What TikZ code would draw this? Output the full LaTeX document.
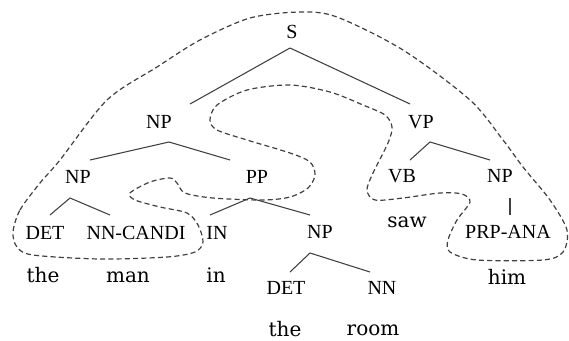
\documentclass[tikz,border=0pt]{standalone}
\usepackage{fontspec}
\setmainfont{Liberation Serif}
\newfontfamily\wordfont{DejaVu Serif}
\usetikzlibrary{calc}

\begin{document}
\begin{tikzpicture}[
    x=0.75pt, y=-0.75pt,
    tag/.style={inner sep=1pt, font=\fontsize{15}{18}\selectfont},
    word/.style={inner sep=1pt, font=\wordfont\fontsize{15}{18}\selectfont},
    branch/.style={draw=black!75, line width=0.8pt},
    chain/.style={draw=black!75, line width=0.9pt, dash pattern=on 3.8pt off 2.4pt}
    ]
    \useasboundingbox (0,0) rectangle (569,340);

    % Dashed chain round the candidate and the anaphor
    \draw[chain] plot[smooth cycle, tension=0.5] coordinates {
        (13,232) (20,210) (40,183) (60,160) (107,100) (157,67) (200,40)
        (250,18) (300,12) (337,17) (403,50) (470,100) (503,140) (523,167)
        (550,200) (567,230) (563,252) (543,260) (477,260) (450,252)
        (448,240) (457,220) (470,202) (462,194) (440,193) (403,198)
        (375,200) (367,190) (373,173) (388,143) (392,127) (385,115)
        (363,105) (330,92) (290,85) (247,90) (217,105) (210,120) (217,130)
        (247,140) (290,153) (310,162) (315,175) (308,188) (290,197)
        (263,200) (213,198) (185,193) (177,183) (170,178) (150,182)
        (130,193) (135,200) (160,207) (187,213) (198,225) (203,242)
        (195,252) (167,257) (100,259) (33,255) (17,247)};

    % Phrase nodes
    \node[tag] (s) at (292, 32) {S};
    \node[tag] (np) at (159, 122) {NP};
    \node[tag] (vp) at (421, 122) {VP};
    \node[tag] (npa) at (78, 177) {NP};
    \node[tag] (pp) at (257, 177) {PP};
    \node[tag] (vb) at (402, 176) {VB};
    \node[tag] (npb) at (500, 176) {NP};

    % Tags above the words
    \node[tag] (det) at (45, 233) {DET};
    \node[tag] (nnc) at (136, 233) {NN-CANDI};
    \node[tag] (tagin) at (217, 233) {IN};
    \node[tag] (npc) at (320, 232) {NP};
    \node[tag] (prp) at (508, 232) {PRP-ANA};
    \node[tag] (detb) at (286, 288) {DET};
    \node[tag] (nn) at (382, 288) {NN};

    % Words
    \node[word] (wthe) at (43, 275) {the};
    \node[word] (wman) at (128, 277) {man};
    \node[word] (win) at (216, 275) {in};
    \node[word] (wsaw) at (407, 222) {saw};
    \node[word] (whim) at (507, 277) {him};
    \node[word] (wtheb) at (285, 329) {the};
    \node[word] (wroom) at (373, 330) {room};

    % Branches
    \draw[branch] ($(s)+(-2,16)$) -- ($(np)+(31,-18)$);
    \draw[branch] ($(s)+(-2,16)$) -- ($(vp)+(-11,-18)$);
    \draw[branch] ($(np)+(10,20)$) -- ($(npa)+(12,-17)$);
    \draw[branch] ($(np)+(10,20)$) -- ($(pp)+(-27,-17)$);
    \draw[branch] ($(vp)+(9,20)$) -- ($(vb)+(8,-16)$);
    \draw[branch] ($(vp)+(9,20)$) -- ($(npb)+(-10,-16)$);
    \draw[branch] ($(npa)+(-8,21)$) -- ($(det)+(5,-18)$);
    \draw[branch] ($(npa)+(-8,21)$) -- ($(nnc)+(-26,-18)$);
    \draw[branch] ($(pp)+(-7,21)$) -- ($(tagin)+(-7,-18)$);
    \draw[branch] ($(pp)+(-7,21)$) -- ($(npc)+(-10,-17)$);
    \draw[branch] ($(npb)+(10,22)$) -- ($(prp)+(2,-17)$);
    \draw[branch] ($(npc)+(-10,21)$) -- ($(detb)+(4,-16)$);
    \draw[branch] ($(npc)+(-10,21)$) -- ($(nn)+(-12,-16)$);

\end{tikzpicture}
\end{document}
